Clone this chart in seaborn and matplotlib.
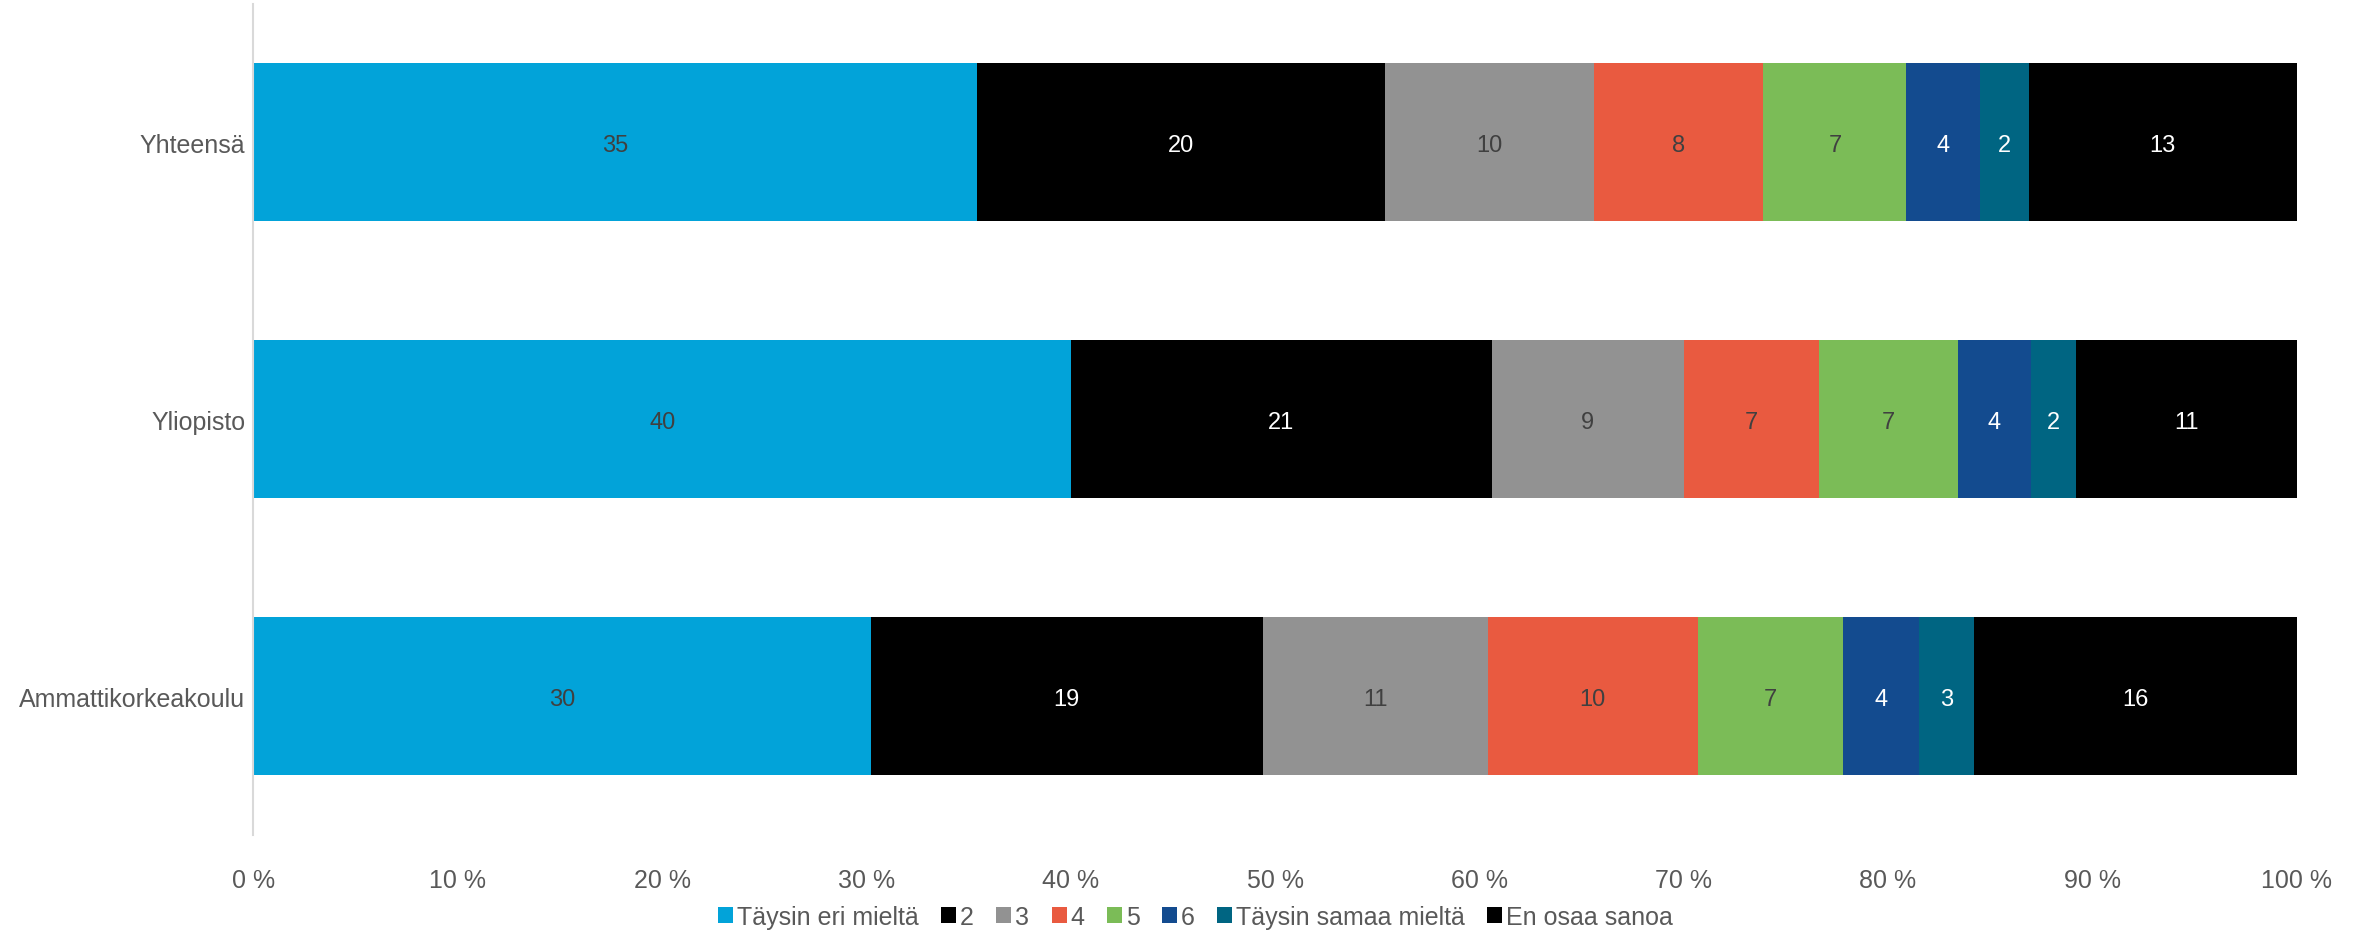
import numpy as np
import pandas as pd
import seaborn as sns
import matplotlib.pyplot as plt
from matplotlib.patches import Patch

# Data (percent shares)
groups = ['Yhteensä', 'Yliopisto', 'Ammattikorkeakoulu']
answers = ['Täysin eri mieltä', '2', '3', '4', '5', '6', 'Täysin samaa mieltä', 'En osaa sanoa']
shares_yhteensa = [35.4, 20.0, 10.2, 8.3, 7.0, 3.6, 2.4, 13.1]
shares_yliopisto = [40.0, 20.6, 9.4, 6.6, 6.8, 3.6, 2.2, 10.8]
shares_amk = [30.2, 19.2, 11.0, 10.3, 7.1, 3.7, 2.7, 15.8]

colors = ['#02A3D9', '#000000', '#929292', '#E95A40', '#7BBC57', '#134B8F', '#006582', '#000000']
label_colors = ['#404040', '#FFFFFF', '#404040', '#404040', '#404040', '#FFFFFF', '#FFFFFF', '#FFFFFF']

sns.set_theme(style='white')
plt.rcParams['font.family'] = ['Liberation Sans', 'DejaVu Sans']

shares = np.array([shares_yhteensa, shares_yliopisto, shares_amk])
cum = shares.cumsum(axis=1)
df = pd.DataFrame(cum, columns=answers)
df['group'] = groups

fig = plt.figure(figsize=(23.58, 9.37), dpi=100)
ax = fig.add_axes([0.1075, 0.108, 0.8665, 0.887])

# draw cumulative bars from the longest to the shortest so they stack
for i in range(len(answers) - 1, -1, -1):
    sns.barplot(data=df, x=answers[i], y='group', orient='h', color=colors[i],
                width=0.57, saturation=1, linewidth=0, ax=ax)

# segment labels
for r in range(len(groups)):
    for i in range(len(answers)):
        left = cum[r, i] - shares[r, i]
        ax.text(left + shares[r, i] / 2, r + 0.01, f'{shares[r, i]:.0f}', ha='center', va='center',
                fontsize=17, color=label_colors[i])

ax.set_xlim(0, 100)
ax.set_ylim(2.5, -0.5)
ax.set_xticks(np.arange(0, 101, 10))
ax.set_xticklabels([f'{v} %' for v in range(0, 101, 10)])
ax.set_xlabel('')
ax.set_ylabel('')
ax.tick_params(axis='x', length=0, pad=24, labelsize=18, labelcolor='#595959')
ax.tick_params(axis='y', length=0, pad=6, labelsize=18, labelcolor='#595959')
for side in ['top', 'right', 'bottom']:
    ax.spines[side].set_visible(False)
ax.spines['left'].set_color('#D9D9D9')
ax.spines['left'].set_linewidth(1.5)

handles = [Patch(facecolor=c, edgecolor='none') for c in colors]
fig.legend(handles, answers, loc='lower center', bbox_to_anchor=(0.507, 0.008), ncol=8,
           frameon=False, fontsize=18, handlelength=0.6, handleheight=0.6,
           handletextpad=0.15, columnspacing=0.9, labelcolor='#595959',
           borderaxespad=0, borderpad=0)

fig.savefig('out.png', dpi=100)
